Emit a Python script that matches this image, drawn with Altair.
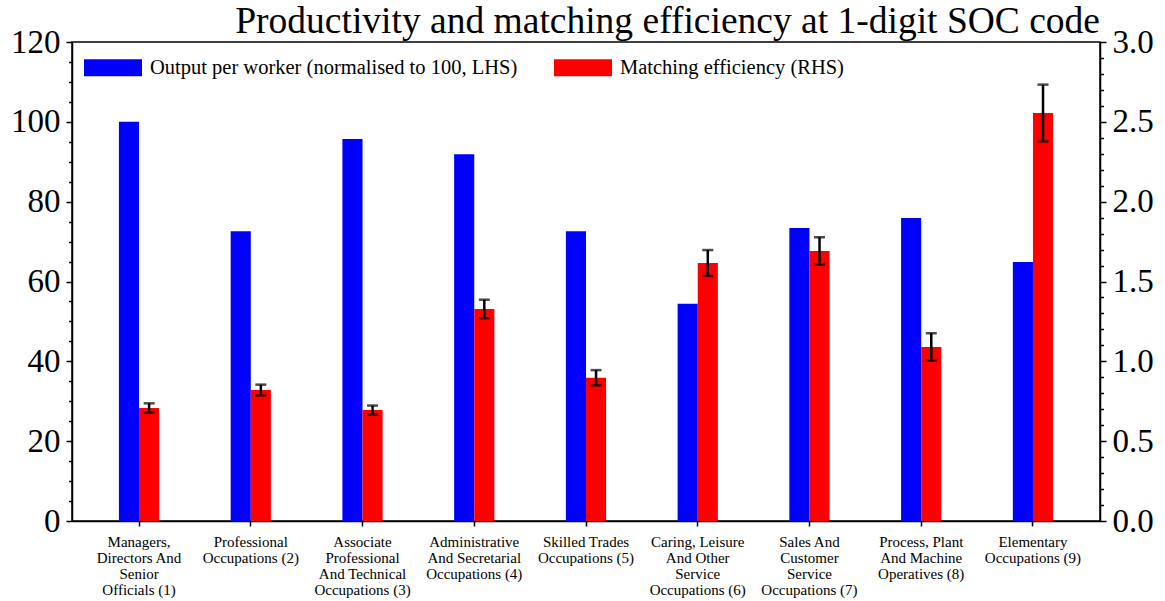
import altair as alt
import pandas as pd

# 1-digit SOC occupation groups ("|" marks a line break in the axis label)
categories = [
    "Managers,|Directors And|Senior|Officials (1)",
    "Professional|Occupations (2)",
    "Associate|Professional|And Technical|Occupations (3)",
    "Administrative|And Secretarial|Occupations (4)",
    "Skilled Trades|Occupations (5)",
    "Caring, Leisure|And Other|Service|Occupations (6)",
    "Sales And|Customer|Service|Occupations (7)",
    "Process, Plant|And Machine|Operatives (8)",
    "Elementary|Occupations (9)",
]

# Output per worker, normalised so that group 1 = 100 (left axis)
output_per_worker = [100.0, 72.6, 95.7, 91.9, 72.6, 54.4, 73.4, 75.9, 64.9]

# Matching efficiency and its standard error (right axis)
matching_eff = [0.708, 0.820, 0.695, 1.328, 0.897, 1.616, 1.691, 1.090, 2.555]
matching_err = [0.029, 0.034, 0.028, 0.058, 0.048, 0.081, 0.086, 0.086, 0.178]

series = ["Output per worker (normalised to 100, LHS)", "Matching efficiency (RHS)"]
colors = ["#0000ff", "#ff0000"]

left_ticks = list(range(0, 121, 5))
right_ticks = [round(i * 0.1, 1) for i in range(31)]

FONT = "Liberation Serif"

out_df = pd.DataFrame({"cat": categories, "series": series[0], "value": output_per_worker})
eff_df = pd.DataFrame({
    "cat": categories,
    "series": series[1],
    "value": matching_eff,
    "lo": [v - e for v, e in zip(matching_eff, matching_err)],
    "hi": [v + e for v, e in zip(matching_eff, matching_err)],
})

x_enc = alt.X(
    "cat:N",
    sort=categories,
    scale=alt.Scale(paddingInner=0.64, paddingOuter=0.42),
    axis=alt.Axis(
        title=None,
        labelAngle=0,
        labelExpr="split(datum.label, '|')",
        labelFont=FONT,
        labelFontSize=15,
        labelLineHeight=16,
        labelColor="black",
        labelPadding=8,
        labelLimit=0,
        tickSize=5,
        tickColor="black",
        tickWidth=1.5,
        domainColor="black",
        domainWidth=1.5,
    ),
)
xoff_enc = alt.XOffset("series:N", scale=alt.Scale(domain=series, paddingInner=0, paddingOuter=0))
color_enc = alt.Color(
    "series:N",
    scale=alt.Scale(domain=series, range=colors),
    legend=alt.Legend(
        title=None,
        orient="none",
        legendX=12,
        legendY=-3.5,
        direction="horizontal",
        symbolType="M-1,-0.29H1V0.29H-1Z",
        symbolSize=3364,
        symbolStrokeWidth=0,
        labelFont=FONT,
        labelFontSize=20.5,
        labelColor="black",
        labelOffset=8,
        labelLimit=0,
        columnPadding=36,
        padding=0,
    ),
)

left_axis = alt.Axis(
    orient="left",
    title=None,
    values=left_ticks,
    labelExpr="datum.value % 20 === 0 ? datum.label : ''",
    labelOverlap=False,
    labelFont=FONT,
    labelFontSize=33,
    labelColor="black",
    labelPadding=6,
    tickSize={"condition": {"test": "datum.value % 20 === 0", "value": 6}, "value": 3.5},
    tickColor="black",
    tickWidth=1.5,
    domainColor="black",
    domainWidth=1.5,
    grid=False,
)

right_scale = alt.Scale(domain=[0, 3])
right_axis = alt.Axis(
    orient="right",
    title=None,
    values=right_ticks,
    format=".1f",
    labelExpr="round(datum.value * 10) % 5 === 0 ? datum.label : ''",
    labelOverlap=False,
    labelFont=FONT,
    labelFontSize=33,
    labelColor="black",
    labelPadding=6,
    tickSize={"condition": {"test": "round(datum.value * 10) % 5 === 0", "value": 6}, "value": 3.5},
    tickColor="black",
    tickWidth=1.5,
    domainColor="black",
    domainWidth=1.5,
    grid=False,
)

bars_out = alt.Chart(out_df).mark_bar().encode(
    x=x_enc,
    xOffset=xoff_enc,
    y=alt.Y("value:Q", scale=alt.Scale(domain=[0, 120]), axis=left_axis),
    color=color_enc,
)

bars_eff = alt.Chart(eff_df).mark_bar().encode(
    x=x_enc,
    xOffset=xoff_enc,
    y=alt.Y("value:Q", scale=right_scale, axis=right_axis),
    color=color_enc,
)

whisker = alt.Chart(eff_df).mark_rule(color="black", strokeWidth=2.5).encode(
    x=x_enc,
    xOffset=xoff_enc,
    y=alt.Y("lo:Q", scale=right_scale, axis=right_axis),
    y2="hi:Q",
)

cap_lo = alt.Chart(eff_df).mark_tick(color="black", size=11, thickness=2.5).encode(
    x=x_enc,
    xOffset=xoff_enc,
    y=alt.Y("lo:Q", scale=right_scale, axis=right_axis),
)

cap_hi = alt.Chart(eff_df).mark_tick(color="black", size=11, thickness=2.5).encode(
    x=x_enc,
    xOffset=xoff_enc,
    y=alt.Y("hi:Q", scale=right_scale, axis=right_axis),
)

right_layer = alt.layer(bars_eff, whisker, cap_lo, cap_hi)

chart = (
    alt.layer(bars_out, right_layer)
    .resolve_scale(y="independent")
    .properties(
        width=1028,
        height=479,
        autosize=alt.AutoSizeParams(type="none"),
        padding={"left": 72, "top": 42, "right": 65, "bottom": 80},
        background="white",
        title=alt.TitleParams(
            "Productivity and matching efficiency at 1-digit SOC code",
            anchor="end",
            frame="group",
            font=FONT,
            fontSize=37.5,
            fontWeight="normal",
            color="black",
            offset=8,
            dy=22,
        ),
    )
    .configure_view(stroke="black", strokeWidth=1.5)
)

chart.save("out.html", embed_options={"renderer": "svg", "actions": False})
